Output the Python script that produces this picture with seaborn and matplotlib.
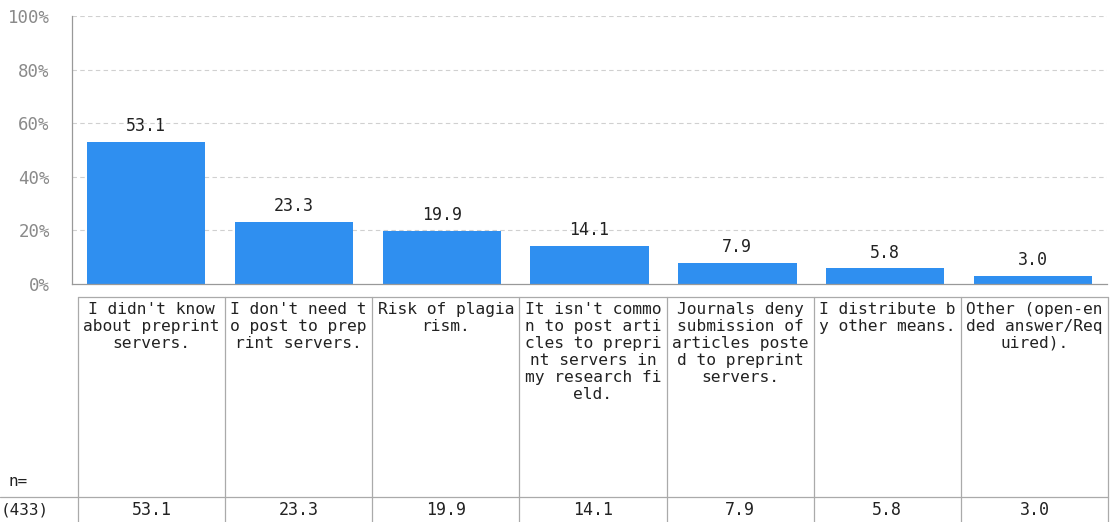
import matplotlib
matplotlib.use("Agg")
import matplotlib.pyplot as plt
import seaborn as sns
import pandas as pd
from matplotlib.lines import Line2D

categories = [
    "I didn't know about preprint servers.",
    "I don't need to post to preprint servers.",
    "Risk of plagiarism.",
    "It isn't common to post articles to preprint servers in my research field.",
    "Journals deny submission of articles posted to preprint servers.",
    "I distribute by other means.",
    "Other (open-ended answer/Required).",
]
values = [53.1, 23.3, 19.9, 14.1, 7.9, 5.8, 3.0]
yticks = [0, 20, 40, 60, 80, 100]
ytick_labels = ["0%", "20%", "40%", "60%", "80%", "100%"]
n_label = "n="
n_total = "(433)"

W, H = 1112, 522
sns.set_theme(style="white")
plt.rcParams['font.family'] = ['DejaVu Sans Mono', 'DejaVu Sans']

fig = plt.figure(figsize=(W / 100, H / 100), dpi=100)
ax = fig.add_axes([72 / W, 1 - 284 / H, (1107 - 72) / W, (284 - 16) / H])

df = pd.DataFrame({"cat": categories, "val": values})
sns.barplot(data=df, x="cat", y="val", color="#2f8ff0", saturation=1,
            width=0.8, ax=ax, edgecolor="none")
ax.set_ylim(0, 100)
ax.set_xlim(-0.5, len(categories) - 0.5)
ax.set_yticks(yticks)
ax.set_yticklabels(ytick_labels, color="#8a8a8a", fontsize=12.5)
ax.tick_params(axis="y", length=0, pad=16)
ax.set_xticks([])
ax.set_xlabel("")
ax.set_ylabel("")
for y in yticks[1:]:
    ax.axhline(y, color="#d0d0d0", lw=0.8, ls=(0, (4, 3)), zorder=0)
for s in ["top", "right"]:
    ax.spines[s].set_visible(False)
ax.spines["left"].set_color("#999999")
ax.spines["left"].set_linewidth(0.9)
ax.spines["bottom"].set_color("#999999")
ax.spines["bottom"].set_linewidth(0.9)

for i, v in enumerate(values):
    ax.annotate(f"{v:.1f}", (i, v), xytext=(0, 5), textcoords="offset points",
                ha="center", va="bottom", fontsize=12, color="#222222")

# table below
def fx(px):
    return px / W

def fy(py):
    return 1 - py / H

col0 = 78
colw = (1108 - 78) / len(categories)
tbl_top, tbl_mid, tbl_bot = 297, 497, 522
line_kw = dict(color="#aaaaaa", lw=0.9, transform=fig.transFigure)
fig.add_artist(Line2D([fx(col0), fx(1108)], [fy(tbl_top), fy(tbl_top)], **line_kw))
fig.add_artist(Line2D([fx(0), fx(1108)], [fy(tbl_mid), fy(tbl_mid)], **line_kw))
for k in range(len(categories) + 1):
    x = col0 + k * colw
    fig.add_artist(Line2D([fx(x), fx(x)], [fy(tbl_top), fy(tbl_bot)], **line_kw))


def chunk(s, n=14):
    return [s[i:i + n].strip() for i in range(0, len(s), n)]


for k, (c, v) in enumerate(zip(categories, values)):
    xc = col0 + (k + 0.5) * colw
    for j, line in enumerate(chunk(c)):
        fig.text(fx(xc), fy(308 + 17 * j), line, ha="center", va="center_baseline",
                 fontsize=11.7, color="#222222")
    fig.text(fx(xc), fy(510), f"{v:.1f}", ha="center", va="center",
             fontsize=12, color="#222222")

fig.text(fx(8), fy(482), n_label, ha="left", va="center", fontsize=11.5, color="#222222")
fig.text(fx(1), fy(510), n_total, ha="left", va="center", fontsize=11.5, color="#222222")

fig.savefig("out.png", dpi=100, facecolor="white")
